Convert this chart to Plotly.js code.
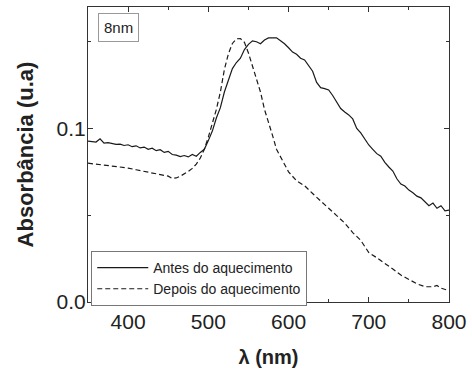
<!DOCTYPE html>
<html>
<head>
<meta charset="utf-8">
<script src="https://cdn.plot.ly/plotly-3.0.1.min.js"></script>
<style>html,body{margin:0;padding:0;background:#fff}#chart{width:472px;height:376px}</style>
</head>
<body>
<div id="chart"></div>
<script>
// Antes do aquecimento (solid)
const antesX = [350,355,360,365,370,375,380,385,390,395,400,405,410,415,420,425,430,435,440,445,450,455,460,465,470,475,480,485,490,495,500,505,510,515,520,525,530,535,540,545,550,555,560,565,570,575,580,585,590,595,600,605,610,615,620,625,630,635,640,645,650,655,660,665,670,675,680,685,690,695,700,705,710,715,720,725,730,735,740,745,750,755,760,765,770,775,780,785,790,795,800];
const antesY = [0.0927,0.0925,0.0922,0.0940,0.0915,0.0918,0.0912,0.0908,0.0910,0.0902,0.0906,0.0895,0.0900,0.0888,0.0893,0.0880,0.0886,0.0872,0.0878,0.0862,0.0868,0.0850,0.0846,0.0838,0.0844,0.0836,0.0850,0.0840,0.0862,0.0880,0.0930,0.0985,0.1060,0.1120,0.1210,0.1280,0.1345,0.1380,0.1405,0.1455,0.1485,0.1505,0.1500,0.1488,0.1510,0.1522,0.1523,0.1522,0.1505,0.1488,0.1465,0.1440,0.1428,0.1405,0.1395,0.1362,0.1330,0.1265,0.1235,0.1230,0.1222,0.1190,0.1150,0.1115,0.1095,0.1078,0.1055,0.1000,0.0975,0.0940,0.0905,0.0880,0.0855,0.0840,0.0805,0.0778,0.0755,0.0710,0.0680,0.0668,0.0645,0.0630,0.0610,0.0600,0.0575,0.0555,0.0570,0.0540,0.0555,0.0525,0.0530];
// Depois do aquecimento (dashed)
const depoisX = [350,360,370,380,390,400,410,420,430,440,450,455,460,465,470,475,480,485,490,495,500,505,510,515,520,525,530,535,540,545,550,555,560,565,570,575,580,585,590,595,600,610,620,630,640,650,660,670,680,690,695,700,710,720,730,740,750,760,770,780,785,790,800];
const depoisY = [0.0800,0.0795,0.0788,0.0783,0.0778,0.0772,0.0762,0.0752,0.0742,0.0735,0.0725,0.0712,0.0715,0.0725,0.0738,0.0752,0.0770,0.0795,0.0830,0.0880,0.0950,0.1030,0.1110,0.1210,0.1340,0.1430,0.1490,0.1517,0.1518,0.1496,0.1435,0.1360,0.1280,0.1210,0.1110,0.1040,0.0960,0.0880,0.0835,0.0787,0.0750,0.0698,0.0670,0.0625,0.0580,0.0540,0.0498,0.0455,0.0400,0.0355,0.0320,0.0285,0.0255,0.0225,0.0190,0.0155,0.0128,0.0105,0.0088,0.0088,0.0095,0.0080,0.0065];
const seriesNames = ['Antes do aquecimento','Depois do aquecimento'];
const xTickVals = [400,500,600,700,800];
const yTickVals = [0.0,0.1];
const yTickText = ['0.0','0.1'];
const sampleLabel = '8nm';

const F = 'Arial';
const traces = [
  {x: antesX, y: antesY, name: seriesNames[0], mode: 'lines', line: {color: '#1a1a1a', width: 1.2}},
  {x: depoisX, y: depoisY, name: seriesNames[1], mode: 'lines', line: {color: '#1a1a1a', width: 1.2, dash: '5px,3px'}}
];
const axisCommon = {
  showline: true, mirror: 'ticks', linecolor: '#333', linewidth: 1,
  ticks: 'inside', ticklen: 5, tickcolor: '#333', tickwidth: 1,
  showgrid: false, zeroline: false,
  tickfont: {family: F, size: 21, color: '#222'}
};
const layout = {
  width: 472, height: 376,
  margin: {l: 88, r: 23, t: 7, b: 74},
  paper_bgcolor: '#fff', plot_bgcolor: '#fff',
  showlegend: true,
  legend: {x: 0.009, y: 0.173, xanchor: 'left', yanchor: 'top',
    bgcolor: '#fff', bordercolor: '#777', borderwidth: 1,
    font: {family: F, size: 14, color: '#222'}, tracegroupgap: 0, itemwidth: 51},
  xaxis: Object.assign({}, axisCommon, {
    range: [350, 800], tickmode: 'array', tickvals: xTickVals,
    minor: {dtick: 50, tick0: 350, ticks: 'inside', ticklen: 3, tickcolor: '#333'},
    ticklabelstandoff: 1,
    title: {text: '<b>λ (nm)</b>', font: {family: F, size: 20, color: '#222'}, standoff: 17}
  }),
  yaxis: Object.assign({}, axisCommon, {
    range: [0, 0.17], tickmode: 'array', tickvals: yTickVals, ticktext: yTickText,
    minor: {dtick: 0.05, tick0: 0, ticks: 'inside', ticklen: 3, tickcolor: '#333'},
    ticklabelstandoff: -3,
    title: {text: '<b>Absorbância (u.a)</b>', font: {family: F, size: 22, color: '#222'}, standoff: 16}
  }),
  annotations: [{
    text: sampleLabel, xref: 'paper', yref: 'paper', x: 0.028, y: 0.978,
    xanchor: 'left', yanchor: 'top', showarrow: false,
    font: {family: F, size: 15, color: '#222'},
    bordercolor: '#999', borderwidth: 1, borderpad: 5, bgcolor: '#fff'
  }]
};
Plotly.newPlot('chart', traces, layout, {staticPlot: true, displayModeBar: false});
</script>
</body>
</html>
